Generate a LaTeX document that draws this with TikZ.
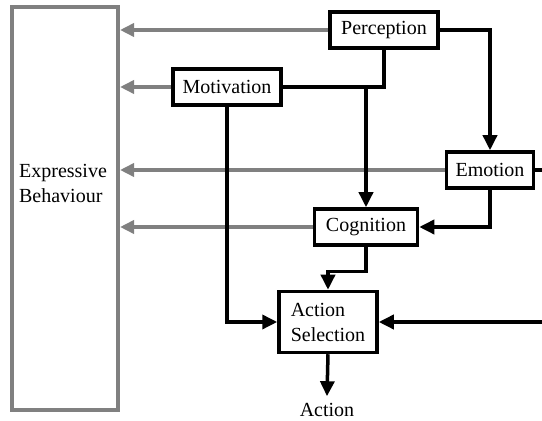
\documentclass[tikz,border=0pt]{standalone}
\usepackage{fontspec}
\setmainfont{Liberation Serif}
\usetikzlibrary{positioning, arrows.meta}

\begin{document}
\begin{tikzpicture}[x=0.5pt, y=-0.5pt, font=\fontsize{10}{12.5}\selectfont]
    % Define styles
    \tikzstyle{block} = [rectangle, draw, line width=1.75pt, fill=white,
        text centered, inner sep=0pt, minimum height=18pt]
    \tikzstyle{outbox} = [rectangle, draw=gray, line width=2pt,
        minimum width=53pt, minimum height=201.5pt]
    \tikzstyle{line} = [draw, line width=1.75pt, -{Triangle[length=7.5pt,width=7pt]}]
    \tikzstyle{express} = [draw=gray, line width=2pt, -{Triangle[length=7pt,width=6.5pt]}]

    \useasboundingbox (0,0) rectangle (542,421);

    % Place nodes
    \node [outbox] (behaviour) at (65,208.5) {};
    \node [align=left] (behaviour_label) at (63,183) {Expressive\\Behaviour};

    \node [block, minimum width=54pt] (perception) at (384,30) {Perception};
    \node [block, minimum width=54pt] (motivation) at (227,87) {Motivation};
    \node [block, minimum width=43.5pt] (emotion) at (490,170) {Emotion};
    \node [block, minimum width=51.5pt] (cognition) at (366,227) {Cognition};
    \node [block, minimum width=49pt, minimum height=30.5pt, align=left] (selection) at (328,322) {Action\\Selection};
    \node (action) at (327,410) {Action};

    \coordinate (edge_top) at (542,170);
    \coordinate (edge_bot) at (542,322);

    % Draw edges to expressive behaviour
    \path [express] (perception) -- (behaviour.east |- perception);
    \path [express] (motivation) -- (behaviour.east |- motivation);
    \path [express] (emotion) -- (behaviour.east |- emotion);
    \path [express] (cognition) -- (behaviour.east |- cognition);

    % Draw edges
    \path [line] (perception.east) -| (emotion.north);
    \draw [line width=1.75pt] (perception.south) |- (motivation.east);
    \path [line] (cognition.north |- motivation) -- (cognition.north);
    \path [line] (motivation.south) |- (selection.west);
    \path [line] (emotion.south) |- (cognition.east);
    \path [line] (cognition.south) -- ++(0,25) -| (selection.north);
    \path [line] (selection.south) -- (action.north);

    % Loop leaving the picture on the right
    \draw [line width=1.75pt] (emotion.east) -- (edge_top);
    \path [line] (edge_bot) -- (selection.east);
\end{tikzpicture}
\end{document}
